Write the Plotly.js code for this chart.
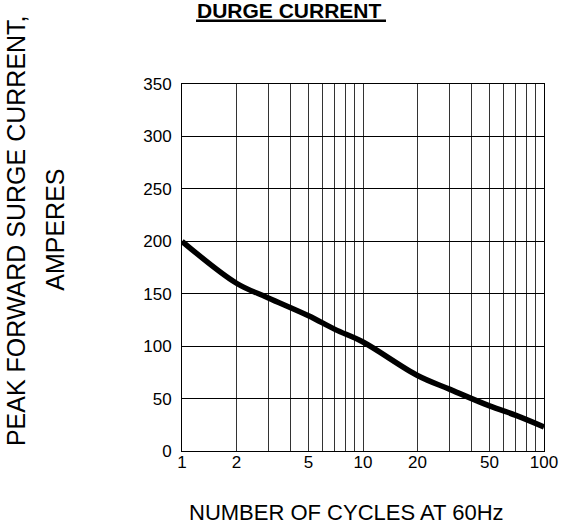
<!DOCTYPE html>
<html>
<head>
<meta charset="utf-8">
<script src="https://cdn.plot.ly/plotly-3.0.1.min.js"></script>
<style>html,body{margin:0;padding:0;background:#fff;}</style>
</head>
<body>
<div id="chart" style="width:564px;height:530px;"></div>
<script>
// Data
var cycles  = [1, 2, 3, 5, 7, 10, 20, 30, 50, 70, 100];
var current = [200, 160, 146, 129, 116, 104, 72, 59, 43, 34, 23];

var xGridVals  = [1, 2, 3, 4, 5, 6, 7, 8, 9, 10, 20, 30, 40, 50, 60, 70, 80, 90, 100];
var xTickText  = ['1', '2', '', '', '5', '', '', '', '', '10', '20', '', '', '50', '', '', '', '', '100'];
var yTickVals  = [0, 50, 100, 150, 200, 250, 300, 350];

var chartTitle = 'DURGE CURRENT';
var xTitle = 'NUMBER OF CYCLES AT 60Hz';
var yTitle1 = 'PEAK FORWARD SURGE CURRENT,';
var yTitle2 = 'AMPERES';

var FONT = 'Liberation Sans, Arial, sans-serif';

var trace = {
  x: cycles, y: current, type: 'scatter', mode: 'lines',
  line: {color: '#000', width: 5.5, shape: 'spline', smoothing: 1},
  hoverinfo: 'skip'
};

var layout = {
  width: 564, height: 530,
  margin: {l: 182, r: 20, t: 84, b: 79, pad: 0},
  paper_bgcolor: '#fff', plot_bgcolor: '#fff',
  showlegend: false,
  font: {family: FONT, color: '#000', size: 17},
  xaxis: {
    type: 'log', range: [0, 2],
    tickmode: 'array', tickvals: xGridVals, ticktext: xTickText,
    showgrid: true, gridcolor: '#333', gridwidth: 1,
    showline: true, mirror: true, linecolor: '#000', linewidth: 1,
    ticks: '', zeroline: false, ticklabelstandoff: -4,
    tickfont: {family: FONT, size: 17, color: '#000'}
  },
  yaxis: {
    range: [0, 350], tickmode: 'array', tickvals: yTickVals,
    showgrid: true, gridcolor: '#000', gridwidth: 1,
    showline: true, mirror: true, linecolor: '#000', linewidth: 1,
    ticks: '', zeroline: false, ticklabelstandoff: 6,
    tickfont: {family: FONT, size: 17, color: '#000'}
  },
  annotations: [
    {text: '<b>' + chartTitle + '</b>', xref: 'paper', yref: 'paper', x: 0.2956, y: 1.201,
     xanchor: 'center', yanchor: 'middle', showarrow: false,
     font: {family: FONT, size: 21, color: '#000'}},
    {text: xTitle, xref: 'paper', yref: 'paper', x: 0.4558, y: -0.168,
     xanchor: 'center', yanchor: 'middle', showarrow: false,
     font: {family: FONT, size: 22, color: '#000'}},
    {text: yTitle1, xref: 'paper', yref: 'paper', x: -0.4586, y: 0.602,
     xanchor: 'center', yanchor: 'middle', showarrow: false, textangle: -90,
     font: {family: FONT, size: 25, color: '#000'}},
    {text: yTitle2, xref: 'paper', yref: 'paper', x: -0.3517, y: 0.602,
     xanchor: 'center', yanchor: 'middle', showarrow: false, textangle: -90,
     font: {family: FONT, size: 25, color: '#000'}}
  ],
  shapes: [
    {type: 'line', xref: 'paper', yref: 'paper', x0: 0.0387, x1: 0.5635, y0: 1.1725, y1: 1.1725,
     line: {color: '#000', width: 2.5}}
  ]
};

Plotly.newPlot('chart', [trace], layout, {staticPlot: true, displayModeBar: false});
</script>
</body>
</html>
